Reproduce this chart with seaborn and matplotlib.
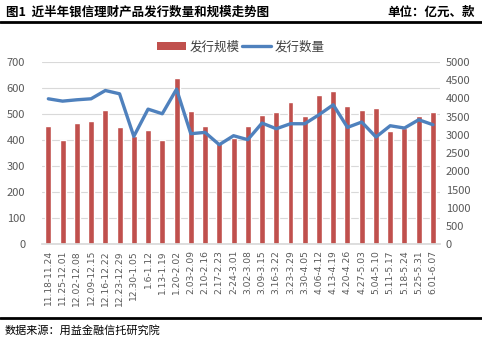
import matplotlib
matplotlib.use("Agg")
import matplotlib.pyplot as plt
import seaborn as sns
import pandas as pd
from matplotlib.lines import Line2D
from matplotlib.patches import Patch

categories = ["11.18-11.24", "11.25-12.01", "12.02-12.08", "12.09-12.15", "12.16-12.22",
              "12.23-12.29", "12.30-1.05", "1.6-1.12", "1.13-1.19", "1.20-2.02",
              "2.03-2.09", "2.10-2.16", "2.17-2.23", "2-24-3.01", "3.02-3.08",
              "3.09-3.15", "3.16-3.22", "3.23-3.29", "3.30-4.05", "4.06-4.12",
              "4.13-4.19", "4.20-4.26", "4.27-5.03", "5.04-5.10", "5.11-5.17",
              "5.18-5.24", "5.25-5.31", "6.01-6.07"]
scale_values = [454, 401, 467, 474, 516, 451, 416, 439, 401, 640,
                512, 454, 389, 408, 454, 497, 506, 547, 493, 573,
                589, 531, 516, 522, 434, 447, 493, 506]
count_values = [3989, 3925, 3962, 3989, 4216, 4126, 2960, 3706, 3579, 4253,
                3033, 3069, 2732, 2978, 2869, 3324, 3169, 3306, 3306, 3552,
                3825, 3206, 3352, 2942, 3251, 3188, 3415, 3279]
left_ticks = [0, 100, 200, 300, 400, 500, 600, 700]
right_ticks = [0, 500, 1000, 1500, 2000, 2500, 3000, 3500, 4000, 4500, 5000]

sns.set_theme(style="white")
plt.rcParams['font.family'] = ['Noto Sans CJK SC', 'DejaVu Sans']

df = pd.DataFrame({"cat": categories, "scale": scale_values, "count": count_values,
                   "pos": list(range(len(categories)))})

bar_color = "#C0504D"
line_color = "#4F81BD"
tick_color = "#595959"

fig = plt.figure(figsize=(4.82, 3.40), dpi=100)
ax = fig.add_axes([0.087, 0.281, 0.826, 0.537])

sns.barplot(data=df, x="cat", y="scale", color=bar_color, width=0.42,
            saturation=1, ax=ax)
ax.set_ylim(0, 700)
ax.set_yticks(left_ticks)
ax.set_xlim(-0.45, 27.5)
ax.grid(axis="y", color="#D9D9D9", linewidth=0.8)
ax.set_axisbelow(True)
for s in ["top", "right", "left"]:
    ax.spines[s].set_visible(False)
ax.spines["bottom"].set_color("#D9D9D9")
ax.set_xlabel("")
ax.set_ylabel("")
ax.tick_params(axis="x", labelrotation=90, labelsize=7, colors=tick_color, length=0, pad=4)
ax.tick_params(axis="y", labelsize=8, colors=tick_color, length=0, pad=12)
for lab in ax.get_xticklabels():
    lab.set_family(["DejaVu Sans"])
    lab.set_fontsize(6.6)

ax2 = ax.twinx()
sns.lineplot(data=df, x="pos", y="count", color=line_color, linewidth=2.4, ax=ax2)
ax2.set_ylim(0, 5000)
ax2.set_yticks(right_ticks)
ax2.set_xlim(-0.45, 27.5)
for s in ["top", "right", "left", "bottom"]:
    ax2.spines[s].set_visible(False)
ax2.set_xlabel("")
ax2.set_ylabel("")
ax2.tick_params(axis="y", labelsize=8, colors=tick_color, length=0, pad=4)
ax2.grid(False)

# Header
fig.text(0.012, 0.963, "图1  近半年银信理财产品发行数量和规模走势图", fontsize=9,
         fontweight="bold", ha="left", va="center", color="black")
fig.text(0.985, 0.963, "单位：亿元、款", fontsize=9, fontweight="bold",
         ha="right", va="center", color="black")
fig.add_artist(Line2D([0.0, 1.0], [0.934, 0.934], color="black", linewidth=2))
fig.add_artist(Line2D([0.0, 1.0], [0.065, 0.065], color="black", linewidth=2))
fig.text(0.01, 0.028, "数据来源：用益金融信托研究院", fontsize=8, ha="left",
         va="center", color="black")

handles = [Patch(facecolor=bar_color, edgecolor="none"),
           Line2D([0], [0], color=line_color, linewidth=2.4)]
fig.legend(handles, ["发行规模", "发行数量"], loc="center", bbox_to_anchor=(0.5, 0.862),
           ncol=2, frameon=False, fontsize=9, handlelength=2.3, handleheight=0.5,
           handletextpad=0.3, columnspacing=0.2, labelcolor="#404040")

fig.savefig("out.png", dpi=100)
